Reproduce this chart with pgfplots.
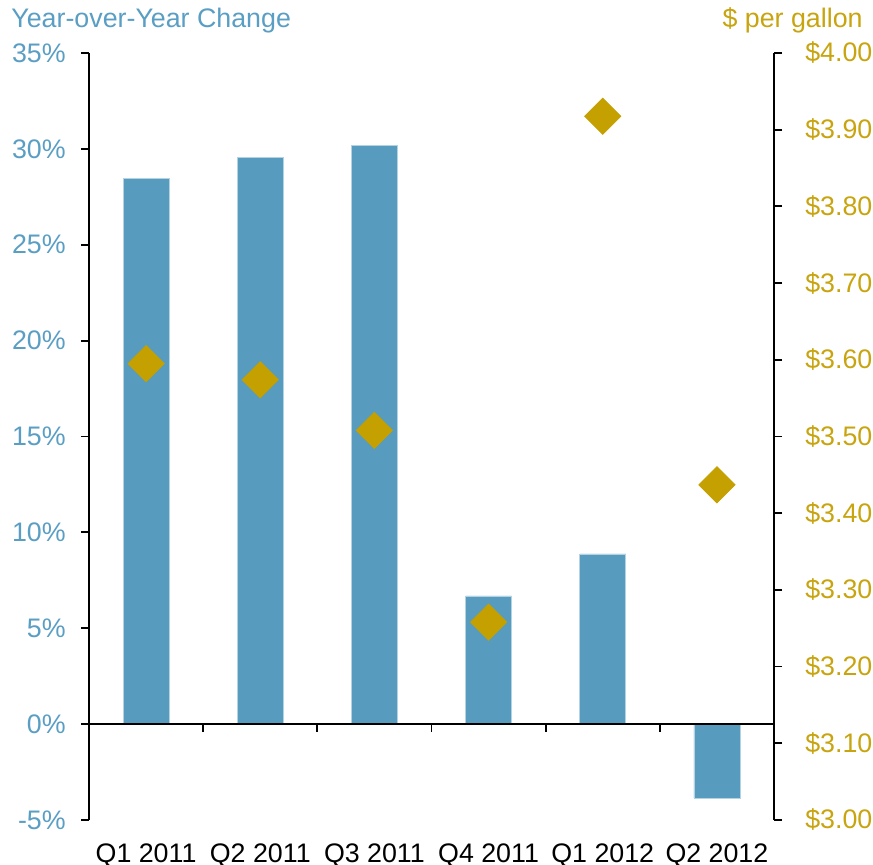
\documentclass[border=0pt]{standalone}
\usepackage{fontspec}
\setmainfont{Liberation Sans}
\usepackage{pgfplots}
\pgfplotsset{compat=1.18}
\definecolor{barblue}{HTML}{579BBF}
\definecolor{gold}{HTML}{C4A000}
\definecolor{txtblue}{HTML}{5A9EC4}
\definecolor{txtgold}{HTML}{C8A40F}
\begin{document}
\fontsize{13.4}{15.5}\selectfont
\begin{tikzpicture}
\pgfplotsset{
  base/.style={
    scale only axis, width=342.5pt, height=383.5pt,
    at={(44.5pt,22.5pt)}, anchor=south west,
    xmin=-0.5, xmax=5.5,
    font=\fontsize{13.4}{15.5}\selectfont,
    /pgf/number format/assume math mode=true,
    tick align=outside, major tick length=4pt,
    every tick/.style={black, line width=0.9pt},
    clip=false,
  }
}
\begin{axis}[base,
  ymin=-5, ymax=35, ytick={-5,0,5,10,15,20,25,30,35},
  yticklabel={\pgfmathprintnumber{\tick}\%},
  axis y line*=left, axis x line*=bottom,
  x axis line style={draw=none},
  y axis line style={line width=0.9pt},
  xtick={0,1,2,3,4,5},
  xticklabels={Q1 2011,Q2 2011,Q3 2011,Q4 2011,Q1 2012,Q2 2012},
  xtick style={draw=none},
  yticklabel style={text=txtblue, xshift=-3pt},
  xticklabel style={text=black, yshift=-3pt},
]
\addplot[ybar, bar width=23pt, fill=barblue, draw=barblue!45, line width=0.3pt]
  coordinates {(0,28.47) (1,29.57) (2,30.2) (3,6.69) (4,8.88) (5,-3.87)};
\draw[line width=0.9pt] (axis cs:-0.5,0) -- (axis cs:5.5,0);
\pgfplotsinvokeforeach{0.5,1.5,2.5,3.5,4.5}{
  \draw[line width=0.9pt] (axis cs:#1,0) -- ([yshift=-4pt]axis cs:#1,0);
}
\end{axis}
\begin{axis}[base,
  ymin=3, ymax=4,
  ytick={3,3.1,3.2,3.3,3.4,3.5,3.6,3.7,3.8,3.9,4},
  yticklabel={\$\pgfmathprintnumber[fixed,fixed zerofill,precision=2]{\tick}},
  axis y line*=right, axis x line=none,
  y axis line style={line width=0.9pt},
  yticklabel style={text=txtgold, xshift=7pt},
]
\addplot[only marks, mark=square*, mark size=6.4pt, color=gold,
  mark options={rotate=45, fill=gold, draw=none}]
  coordinates {(0,3.595) (1,3.574) (2,3.508) (3,3.258) (4,3.9175) (5,3.437)};
\end{axis}
\node[anchor=base west, text=txtblue, inner sep=0pt] at (5.5pt,418.5pt) {Year-over-Year Change};
\node[anchor=base east, text=txtgold, inner sep=0pt] at (431.5pt,418.5pt) {\$ per gallon};
\pgfresetboundingbox
\path[use as bounding box] (0,0) rectangle (436.5pt,432.5pt);
\end{tikzpicture}
\end{document}
